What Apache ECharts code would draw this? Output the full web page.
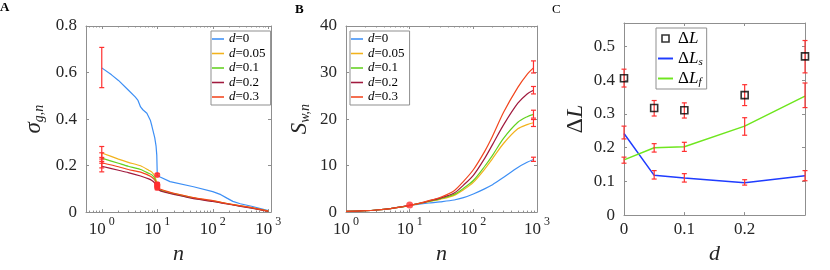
<!DOCTYPE html>
<html><head><meta charset="utf-8">
<script src="https://cdn.jsdelivr.net/npm/echarts@6/dist/echarts.min.js"></script>
<style>html,body{margin:0;padding:0;background:#fff}#c{width:830px;height:270px}</style>
</head><body><div id="c"></div>
<script>
// ---------- Panel A: sigma_{g,n} vs n ----------
const dLabels = ['0', '0.05', '0.1', '0.2', '0.3'];
const nA0 = [1, 1.5, 2, 3, 4, 4.5, 5, 5.5, 6.5, 7.5, 8, 9, 9.5, 9.8, 10, 11, 17, 45, 100, 140, 180, 230, 313, 500, 1000];
const sigA_d0 = [0.62, 0.59, 0.566, 0.525, 0.495, 0.48, 0.452, 0.44, 0.425, 0.395, 0.37, 0.32, 0.285, 0.245, 0.16, 0.152, 0.131, 0.109, 0.088, 0.075, 0.06, 0.046, 0.036, 0.025, 0.006];
const nA = [1, 2, 3, 5, 7, 8, 9, 10, 11, 15, 20, 45, 100, 180, 300, 500, 1000];
const sigA_d005 = [0.254, 0.228, 0.214, 0.199, 0.18, 0.172, 0.155, 0.12, 0.098, 0.087, 0.08, 0.061, 0.048, 0.037, 0.028, 0.019, 0.004];
const sigA_d01 = [0.232, 0.21, 0.197, 0.183, 0.167, 0.16, 0.145, 0.115, 0.095, 0.085, 0.078, 0.06, 0.047, 0.036, 0.027, 0.018, 0.004];
const sigA_d02 = [0.197, 0.18, 0.17, 0.155, 0.143, 0.136, 0.125, 0.105, 0.093, 0.083, 0.076, 0.058, 0.046, 0.035, 0.026, 0.017, 0.003];
const sigA_d03 = [0.212, 0.195, 0.183, 0.172, 0.158, 0.15, 0.138, 0.11, 0.1, 0.089, 0.081, 0.062, 0.049, 0.037, 0.028, 0.019, 0.004];
// error bars [n, low, high]
const errA = [[1, 0.535, 0.708], [1, 0.228, 0.282], [1, 0.21, 0.255], [1, 0.173, 0.218], [1, 0.19, 0.235],
              [10, 0.155, 0.165], [10, 0.112, 0.127], [10, 0.107, 0.122], [10, 0.096, 0.112], [10, 0.102, 0.118]];
const dotsA = [[10, 0.16], [10, 0.12], [10, 0.115], [10, 0.105], [10, 0.11]];

// ---------- Panel B: S_{w,n} vs n ----------
const nB = [1, 2, 3, 5, 7, 10, 15, 20, 30, 50, 70, 100, 150, 200, 300, 500, 700, 880];
const swB_d0   = [0.15, 0.3, 0.45, 0.75, 1.05, 1.45, 1.75, 1.95, 2.2, 2.6, 3.1, 3.9, 5.0, 5.9, 7.5, 9.6, 10.7, 11.3];
const swB_d005 = [0.15, 0.3, 0.45, 0.75, 1.05, 1.45, 1.9, 2.25, 2.75, 3.6, 4.8, 6.4, 9.2, 11.5, 14.8, 17.9, 18.8, 19.2];
const swB_d01  = [0.15, 0.3, 0.45, 0.75, 1.05, 1.45, 1.92, 2.3, 2.85, 3.8, 5.1, 6.8, 9.8, 12.2, 15.9, 19.3, 20.5, 21.0];
const swB_d02  = [0.15, 0.3, 0.45, 0.75, 1.05, 1.45, 1.95, 2.38, 3.0, 4.1, 5.8, 7.9, 11.5, 14.5, 18.8, 23.4, 25.4, 26.2];
const swB_d03  = [0.15, 0.3, 0.45, 0.75, 1.05, 1.45, 2.0, 2.45, 3.15, 4.6, 6.6, 9.1, 13.0, 16.3, 21.5, 26.8, 29.6, 31.0];
const errB = [[880, 10.9, 11.8], [880, 18.4, 19.9], [880, 20.2, 21.9], [880, 25.4, 27.0], [880, 29.9, 32.5]];
const dotsB = [[10, 1.5]];

// ---------- Panel C: Delta L vs d ----------
const dC = [0, 0.05, 0.1, 0.2, 0.3];
const dL    = [0.406, 0.318, 0.311, 0.356, 0.471];
const dL_lo = [0.380, 0.294, 0.288, 0.325, 0.422];
const dL_hi = [0.433, 0.340, 0.333, 0.387, 0.518];
const dLs    = [0.242, 0.118, 0.110, 0.096, 0.117];
const dLs_lo = [0.226, 0.107, 0.098, 0.089, 0.102];
const dLs_hi = [0.264, 0.132, 0.123, 0.105, 0.132];
const dLf    = [0.164, 0.200, 0.203, 0.264, 0.353];
const dLf_lo = [0.154, 0.187, 0.189, 0.237, 0.319];
const dLf_hi = [0.172, 0.212, 0.216, 0.289, 0.392];

// ---------- styling ----------
const SERIF = 'Liberation Serif';
const AX = '#8f8f8f';
const TXT = '#262626';
const ERR = '#ff3030';
const colorsAB = ['#3d8ff5', '#f2b21c', '#62d11f', '#a01a3e', '#f2461e'];
const colBlueC = '#1f3cff', colGreenC = '#6fe61f';
const LINE_ICON = 'path://M0,0H20V2.6H0Z';
const SQUARE_ICON = 'path://M0,0H10V10H0Z';

const zip = (xs, ys) => xs.map((x, i) => [x, ys[i]]);
const zip3 = (xs, a, b) => xs.map((x, i) => [x, a[i], b[i]]);

function logLabel(v) {
  const e = Math.log10(v);
  if (Math.abs(e - Math.round(e)) < 1e-6) return '{b|10}{s|' + Math.round(e) + '}';
  return '';
}
const labelRich = {
  b: {fontFamily: SERIF, fontSize: 17, color: TXT, lineHeight: 22, verticalAlign: 'bottom'},
  s: {fontFamily: SERIF, fontSize: 12, color: TXT, lineHeight: 12, verticalAlign: 'top', padding: [0, 0, 0, 3]}
};

function baseAxis(grid, pos, extra, showLabel) {
  return Object.assign({
    gridIndex: grid, position: pos,
    axisLine: {show: true, onZero: false, lineStyle: {color: AX, width: 1}},
    axisTick: {show: true, inside: true, length: 3, lineStyle: {color: AX}},
    splitLine: {show: false},
    axisLabel: {show: showLabel, fontFamily: SERIF, fontSize: 17, color: TXT, margin: 8}
  }, extra);
}
function logX(grid, pos, min, max, showLabel) {
  const a = baseAxis(grid, pos, {type: 'log', logBase: 10, min: min, max: max,
    minorTick: {show: true, splitNumber: 9, length: 1.5, lineStyle: {color: AX}}}, showLabel);
  a.axisLabel = Object.assign(a.axisLabel, {formatter: logLabel, rich: labelRich, margin: 4, showMinLabel: true, showMaxLabel: true});
  if (showLabel) {
    a.name = '{i|n}';
    a.nameLocation = 'middle';
    a.nameGap = 30;
    a.nameTextStyle = {rich: {i: {fontFamily: SERIF, fontStyle: 'italic', fontSize: 22, color: TXT}}};
  }
  return a;
}

const xAxes = [
  logX(0, 'bottom', 0.52, 1120, true), logX(0, 'top', 0.52, 1120, false),
  logX(1, 'bottom', 1, 1000, true), logX(1, 'top', 1, 1000, false),
  baseAxis(2, 'bottom', {type: 'value', min: 0, max: 0.3, interval: 0.1,
    name: '{i|d}', nameLocation: 'middle', nameGap: 24,
    nameTextStyle: {rich: {i: {fontFamily: SERIF, fontStyle: 'italic', fontSize: 22, color: TXT}}}}, true),
  baseAxis(2, 'top', {type: 'value', min: 0, max: 0.3, interval: 0.1}, false)
];
xAxes[4].axisLabel.formatter = v => (Math.abs(v - 0.3) < 1e-6 ? '' : String(+v.toFixed(2)));
xAxes[4].axisLabel.margin = 6;

const yAxes = [
  baseAxis(0, 'left', {type: 'value', min: 0, max: 0.8, interval: 0.2,
    name: '{i|σ}{sub|g,n}', nameLocation: 'middle', nameRotate: 90, nameGap: 40,
    nameTextStyle: {rich: {
      i: {fontFamily: SERIF, fontStyle: 'italic', fontSize: 23, color: TXT},
      sub: {fontFamily: SERIF, fontStyle: 'italic', fontSize: 14, color: TXT, padding: [10, 0, 0, 0]}}}}, true),
  baseAxis(0, 'right', {type: 'value', min: 0, max: 0.8, interval: 0.2}, false),
  baseAxis(1, 'left', {type: 'value', min: 0, max: 40, interval: 10,
    name: '{i|S}{sub|w,n}', nameLocation: 'middle', nameRotate: 90, nameGap: 34,
    nameTextStyle: {rich: {
      i: {fontFamily: SERIF, fontStyle: 'italic', fontSize: 23, color: TXT},
      sub: {fontFamily: SERIF, fontStyle: 'italic', fontSize: 14, color: TXT, padding: [10, 0, 0, 0]}}}}, true),
  baseAxis(1, 'right', {type: 'value', min: 0, max: 40, interval: 10}, false),
  baseAxis(2, 'left', {type: 'value', min: 0, max: 0.57, interval: 0.1,
    name: '{r|Δ}{i|L}', nameLocation: 'middle', nameRotate: 90, nameGap: 36,
    nameTextStyle: {rich: {
      r: {fontFamily: SERIF, fontSize: 24, color: TXT},
      i: {fontFamily: SERIF, fontStyle: 'italic', fontSize: 24, color: TXT}}}}, true),
  baseAxis(2, 'right', {type: 'value', min: 0, max: 0.57, interval: 0.1}, false)
];
yAxes[0].axisLabel.margin = 9;
yAxes[2].axisLabel.margin = 9;
yAxes[4].axisLabel.margin = 9;
yAxes[4].axisLabel.formatter = v => { const k = Math.round(v * 10); return Math.abs(v * 10 - k) < 1e-6 ? String(k / 10) : ''; };

function errSeries(xi, yi, data, w) {
  return {
    type: 'custom', xAxisIndex: xi, yAxisIndex: yi, data: data, z: 6, silent: true, clip: false,
    encode: {x: 0, y: [1, 2]},
    renderItem: function (params, api) {
      const x = api.value(0), lo = api.value(1), hi = api.value(2);
      const p1 = api.coord([x, lo]), p2 = api.coord([x, hi]);
      const st = {stroke: ERR, lineWidth: 1.2};
      return {type: 'group', children: [
        {type: 'line', shape: {x1: p1[0], y1: p1[1], x2: p2[0], y2: p2[1]}, style: st},
        {type: 'line', shape: {x1: p1[0] - w, y1: p1[1], x2: p1[0] + w, y2: p1[1]}, style: st},
        {type: 'line', shape: {x1: p2[0] - w, y1: p2[1], x2: p2[0] + w, y2: p2[1]}, style: st}
      ]};
    }
  };
}
function lineS(name, xi, yi, data, color, width, smooth) {
  return {name: name, type: 'line', xAxisIndex: xi, yAxisIndex: yi, data: data, symbol: 'none', showSymbol: false,
    smooth: smooth || false, lineStyle: {color: color, width: width}, itemStyle: {color: color}, z: 3};
}

const namesA = dLabels.map(d => 'A:d=' + d);
const namesB = dLabels.map(d => 'B:d=' + d);

const series = [
  lineS(namesA[0], 0, 0, zip(nA0, sigA_d0), colorsAB[0], 1.2),
  lineS(namesA[1], 0, 0, zip(nA, sigA_d005), colorsAB[1], 1.2, 0.2),
  lineS(namesA[2], 0, 0, zip(nA, sigA_d01), colorsAB[2], 1.2, 0.2),
  lineS(namesA[3], 0, 0, zip(nA, sigA_d02), colorsAB[3], 1.2, 0.2),
  lineS(namesA[4], 0, 0, zip(nA, sigA_d03), colorsAB[4], 1.2, 0.2),
  errSeries(0, 0, errA, 2.5),
  {type: 'scatter', xAxisIndex: 0, yAxisIndex: 0, data: dotsA, symbol: 'circle', symbolSize: 6, itemStyle: {color: ERR}, z: 7, silent: true},
  lineS(namesB[0], 2, 2, zip(nB, swB_d0), colorsAB[0], 1.2, 0.3),
  lineS(namesB[1], 2, 2, zip(nB, swB_d005), colorsAB[1], 1.2, 0.3),
  lineS(namesB[2], 2, 2, zip(nB, swB_d01), colorsAB[2], 1.2, 0.3),
  lineS(namesB[3], 2, 2, zip(nB, swB_d02), colorsAB[3], 1.2, 0.3),
  lineS(namesB[4], 2, 2, zip(nB, swB_d03), colorsAB[4], 1.2, 0.3),
  errSeries(2, 2, errB, 2.5),
  {type: 'scatter', xAxisIndex: 2, yAxisIndex: 2, data: dotsB, symbol: 'circle', symbolSize: 7, itemStyle: {color: ERR}, z: 7, silent: true},
  {name: 'dL', type: 'scatter', xAxisIndex: 4, yAxisIndex: 4, data: zip(dC, dL), symbol: 'rect', symbolSize: 7,
    itemStyle: {color: 'rgba(0,0,0,0)', borderColor: '#000', borderWidth: 1.6}, z: 8},
  lineS('dLs', 4, 4, zip(dC, dLs), colBlueC, 1.5),
  lineS('dLf', 4, 4, zip(dC, dLf), colGreenC, 1.5),
  errSeries(4, 4, zip3(dC, dL_lo, dL_hi), 2.5),
  errSeries(4, 4, zip3(dC, dLs_lo, dLs_hi), 2.5),
  errSeries(4, 4, zip3(dC, dLf_lo, dLf_hi), 2.5)
];

function legendAB(names, left) {
  return {
    data: names.map((n, i) => ({name: n, icon: LINE_ICON, itemStyle: {color: colorsAB[i], borderWidth: 0}})),
    left: left, top: 31, orient: 'vertical', selectedMode: false,
    itemWidth: 12, itemHeight: 10, itemGap: 0.5, padding: [1, 5, 1, 1],
    borderColor: AX, borderWidth: 1, backgroundColor: '#fff',
    textStyle: {fontFamily: SERIF, fontSize: 13, lineHeight: 14, color: '#000',
      rich: {i: {fontFamily: SERIF, fontStyle: 'italic', fontSize: 13, color: '#000'},
             r: {fontFamily: SERIF, fontSize: 13, color: '#000'}}},
    formatter: name => '{i|d}{r|' + name.slice(3) + '}'
  };
}
const legCRich = {
  r: {fontFamily: SERIF, fontSize: 17, color: '#000'},
  i: {fontFamily: SERIF, fontStyle: 'italic', fontSize: 17, color: '#000'},
  sub: {fontFamily: SERIF, fontStyle: 'italic', fontSize: 11, color: '#000', padding: [8, 0, 0, 0]}
};

const option = {
  animation: false,
  backgroundColor: '#fff',
  title: [
    {text: 'A', left: 0, top: 1, padding: 0, textStyle: {fontFamily: SERIF, fontWeight: 'bold', fontSize: 13, color: '#000'}},
    {text: 'B', left: 295, top: 3, padding: 0, textStyle: {fontFamily: SERIF, fontWeight: 'bold', fontSize: 13, color: '#000'}},
    {text: 'C', left: 552, top: 3, padding: 0, textStyle: {fontFamily: SERIF, fontWeight: 'normal', fontSize: 13, color: '#000'}}
  ],
  grid: [
    {left: 86, top: 26, width: 185, height: 188},
    {left: 346, top: 26, width: 191, height: 187},
    {left: 624, top: 23, width: 181, height: 194.5}
  ],
  xAxis: xAxes,
  yAxis: yAxes,
  legend: [
    legendAB(namesA, 211),
    legendAB(namesB, 350),
    {
      data: [
        {name: 'dL', icon: SQUARE_ICON, itemStyle: {color: 'rgba(0,0,0,0)', borderColor: '#000', borderWidth: 1.6}},
        {name: 'dLs', icon: LINE_ICON, itemStyle: {color: colBlueC, borderWidth: 0}},
        {name: 'dLf', icon: LINE_ICON, itemStyle: {color: colGreenC, borderWidth: 0}}
      ],
      left: 656, top: 28, orient: 'vertical', selectedMode: false,
      itemWidth: 15, itemHeight: 7, itemGap: 1, padding: [1, 4, 1, 2],
      borderColor: AX, borderWidth: 1, backgroundColor: '#fff',
      textStyle: {fontFamily: SERIF, fontSize: 17, lineHeight: 19, color: '#000', rich: legCRich},
      formatter: name => name === 'dL' ? '{r|Δ}{i|L}' : ('{r|Δ}{i|L}{sub|' + (name === 'dLs' ? 's' : 'f') + '}')
    }
  ],
  series: series
};

const chart = echarts.init(document.getElementById('c'), null, {renderer: 'canvas'});
chart.setOption(option);
</script>
</body></html>
